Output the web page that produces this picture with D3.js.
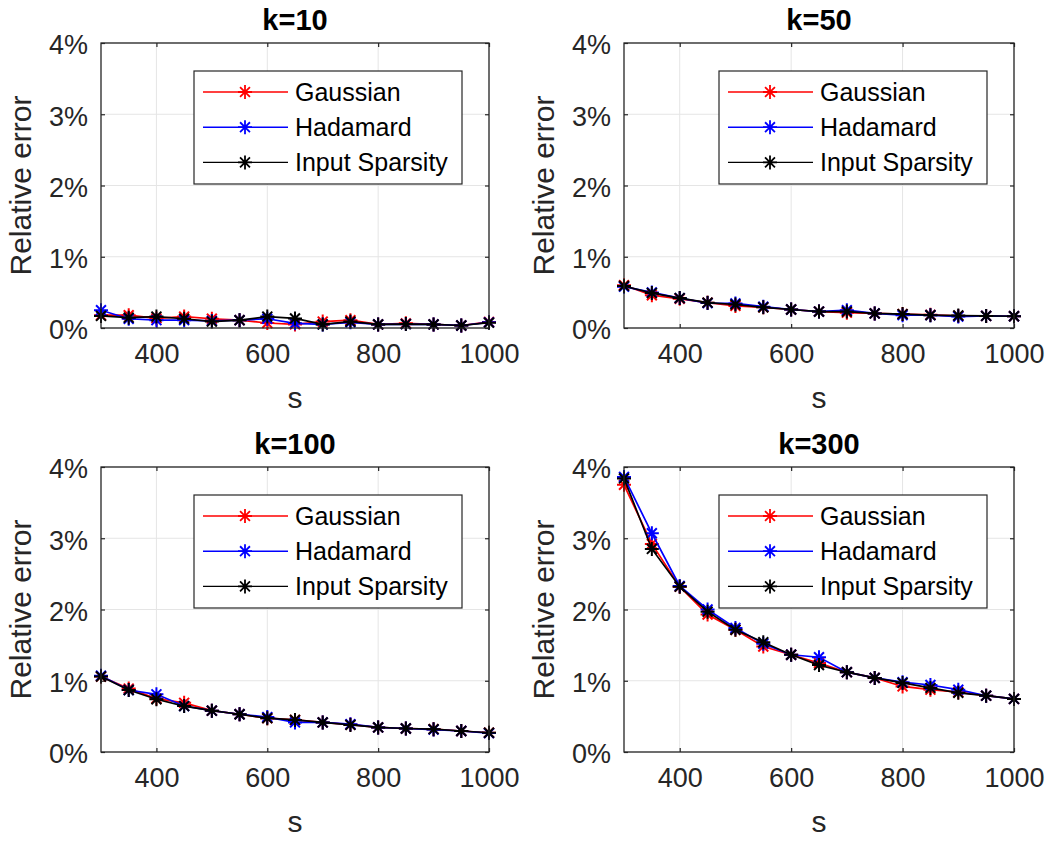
<!DOCTYPE html>
<html><head><meta charset="utf-8">
<script src="https://cdn.jsdelivr.net/npm/d3@7"></script>
<style>body{margin:0;background:#fff}svg{display:block}</style>
</head><body>
<svg id="chart" width="1050" height="843"></svg>
<script>
const sValues = [300,350,400,450,500,550,600,650,700,750,800,850,900,950,1000];
const panelTitles = ["k=10","k=50","k=100","k=300"];
const seriesNames = ["Gaussian","Hadamard","Input Sparsity"];
const seriesColors = ["#ff0000","#0000ff","#000000"];
const xTicks = [400,600,800,1000];
const yTicks = [0,1,2,3,4];
const yTickLabels = ["0%","1%","2%","3%","4%"];

const k10Gaussian = [0.18,0.18,0.135,0.16,0.13,0.11,0.07,0.05,0.09,0.11,0.05,0.065,0.05,0.035,0.085];
const k10Hadamard = [0.25,0.13,0.11,0.11,0.10,0.11,0.13,0.065,0.05,0.08,0.05,0.055,0.05,0.035,0.08];
const k10Input    = [0.17,0.145,0.16,0.13,0.09,0.11,0.16,0.135,0.05,0.09,0.05,0.055,0.05,0.035,0.075];

const k50Gaussian = [0.60,0.46,0.41,0.355,0.31,0.29,0.26,0.23,0.215,0.205,0.195,0.185,0.17,0.17,0.165];
const k50Hadamard = [0.58,0.50,0.42,0.35,0.345,0.30,0.26,0.23,0.25,0.205,0.18,0.18,0.16,0.17,0.165];
const k50Input    = [0.59,0.49,0.42,0.355,0.33,0.29,0.26,0.23,0.23,0.205,0.195,0.18,0.175,0.17,0.165];

const k100Gaussian = [1.06,0.89,0.75,0.69,0.58,0.53,0.475,0.45,0.415,0.385,0.345,0.33,0.32,0.295,0.27];
const k100Hadamard = [1.07,0.87,0.81,0.645,0.58,0.53,0.49,0.415,0.415,0.39,0.345,0.33,0.315,0.295,0.265];
const k100Input    = [1.06,0.87,0.74,0.645,0.58,0.53,0.475,0.45,0.415,0.38,0.345,0.33,0.32,0.295,0.27];

const k300Gaussian = [3.75,2.92,2.32,1.93,1.715,1.48,1.365,1.25,1.12,1.04,0.92,0.875,0.84,0.79,0.745];
const k300Hadamard = [3.86,3.07,2.33,2.0,1.74,1.52,1.365,1.33,1.12,1.04,0.98,0.94,0.875,0.79,0.745];
const k300Input    = [3.84,2.85,2.32,1.97,1.715,1.54,1.365,1.22,1.12,1.04,0.97,0.9,0.83,0.79,0.745];

const panelData = [
  [k10Gaussian,k10Hadamard,k10Input],
  [k50Gaussian,k50Hadamard,k50Input],
  [k100Gaussian,k100Hadamard,k100Input],
  [k300Gaussian,k300Hadamard,k300Input]
];

const FONT = "'Liberation Sans', Arial, Helvetica, sans-serif";
const axisColor = "#262626";
const panels = [
  {x0:101, x1:489, y0:43, y1:328},
  {x0:624, x1:1014, y0:43, y1:328},
  {x0:101, x1:489, y0:467, y1:752},
  {x0:624, x1:1014, y0:467, y1:752}
];

const svg = d3.select("#chart");

function starPath(r){
  const d = r*0.7071;
  return `M${-r},0L${r},0M0,${-r}L0,${r}M${-d},${-d}L${d},${d}M${-d},${d}L${d},${-d}`;
}

panels.forEach((p, pi) => {
  const g = svg.append("g");
  const x = d3.scaleLinear().domain([300,1000]).range([p.x0,p.x1]);
  const y = d3.scaleLinear().domain([0,4]).range([p.y1,p.y0]);

  // grid
  g.append("g").selectAll("line").data(xTicks).join("line")
    .attr("x1",d=>x(d)).attr("x2",d=>x(d)).attr("y1",p.y0).attr("y2",p.y1)
    .attr("stroke","#e5e5e5").attr("stroke-width",1);
  g.append("g").selectAll("line").data(yTicks).join("line")
    .attr("y1",d=>y(d)).attr("y2",d=>y(d)).attr("x1",p.x0).attr("x2",p.x1)
    .attr("stroke","#e5e5e5").attr("stroke-width",1);

  // axes via d3
  const xAxis = d3.axisBottom(x).tickValues(xTicks).tickFormat(d3.format("d")).tickSizeInner(-4).tickSizeOuter(0).tickPadding(16);
  const yAxis = d3.axisLeft(y).tickValues(yTicks).tickFormat((d,i)=>yTickLabels[i]).tickSizeInner(-4).tickSizeOuter(0).tickPadding(13);
  const xa = g.append("g").attr("transform",`translate(0,${p.y1})`).call(xAxis);
  const ya = g.append("g").attr("transform",`translate(${p.x0},0)`).call(yAxis);
  [xa,ya].forEach(a=>{
    a.select(".domain").remove();
    a.selectAll("line").attr("stroke",axisColor).attr("stroke-width",1.2);
    a.selectAll("text").attr("fill",axisColor).style("font-family",FONT).style("font-size","27px");
  });
  xa.selectAll("text").attr("dy","0.71em");
  ya.selectAll("text").attr("dy","0.4em");
  // top & right ticks
  const xTop = d3.axisTop(x).tickValues(xTicks).tickSizeInner(-4).tickSizeOuter(0).tickFormat("");
  const yRight = d3.axisRight(y).tickValues(yTicks).tickSizeInner(-4).tickSizeOuter(0).tickFormat("");
  const xt = g.append("g").attr("transform",`translate(0,${p.y0})`).call(xTop);
  const yr = g.append("g").attr("transform",`translate(${p.x1},0)`).call(yRight);
  [xt,yr].forEach(a=>{a.select(".domain").remove(); a.selectAll("line").attr("stroke",axisColor).attr("stroke-width",1.2);});

  // lines
  const line = d3.line().x((d,i)=>x(sValues[i])).y(d=>y(d));
  panelData[pi].forEach((vals, si) => {
    g.append("path").datum(vals).attr("d",line).attr("fill","none")
      .attr("stroke",seriesColors[si]).attr("stroke-width",1.7);
    g.append("g").selectAll("path").data(vals).join("path")
      .attr("transform",(d,i)=>`translate(${x(sValues[i])},${y(d)})`)
      .attr("d",starPath(7)).attr("fill","none")
      .attr("stroke",seriesColors[si]).attr("stroke-width",2);
  });

  // box
  g.append("rect").attr("x",p.x0).attr("y",p.y0).attr("width",p.x1-p.x0).attr("height",p.y1-p.y0)
    .attr("fill","none").attr("stroke",axisColor).attr("stroke-width",1.3);

  // title
  g.append("text").attr("x",(p.x0+p.x1)/2).attr("y",p.y0-13).attr("text-anchor","middle")
    .style("font-family",FONT).style("font-size","29px").style("font-weight","bold").attr("fill","#000")
    .text(panelTitles[pi]);
  // x label
  g.append("text").attr("x",(p.x0+p.x1)/2).attr("y",p.y1+80).attr("text-anchor","middle")
    .style("font-family",FONT).style("font-size","30px").attr("fill",axisColor).text("s");
  // y label
  g.append("text").attr("transform",`translate(${p.x0-70},${(p.y0+p.y1)/2}) rotate(-90)`)
    .attr("text-anchor","middle")
    .style("font-family",FONT).style("font-size","30px").attr("fill",axisColor).text("Relative error");

  // legend
  const lx = p.x1 - 295, ly = p.y0 + 28;
  const lg = g.append("g").attr("transform",`translate(${lx},${ly})`);
  lg.append("rect").attr("x",0).attr("y",0).attr("width",268).attr("height",113)
    .attr("fill","#fff").attr("stroke",axisColor).attr("stroke-width",1.2);
  seriesNames.forEach((nm, si) => {
    const yy = 21 + si*35.2;
    lg.append("line").attr("x1",9).attr("x2",94).attr("y1",yy).attr("y2",yy)
      .attr("stroke",seriesColors[si]).attr("stroke-width",1.4);
    lg.append("path").attr("transform",`translate(51,${yy})`).attr("d",starPath(7))
      .attr("fill","none").attr("stroke",seriesColors[si]).attr("stroke-width",1.8);
    lg.append("text").attr("x",101).attr("y",yy).attr("dy","0.36em")
      .style("font-family",FONT).style("font-size","25px").attr("fill","#000").text(nm);
  });
});
</script>
</body></html>
